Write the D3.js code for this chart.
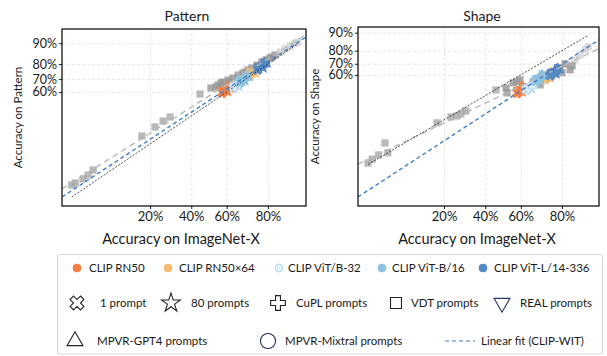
<!DOCTYPE html>
<html>
<head>
<meta charset="utf-8">
<script src="https://cdn.jsdelivr.net/npm/d3@7"></script>
<style>
  body { margin: 0; background: #fff; }
  text { font-family: Lato, "Open Sans", sans-serif; fill: #1a1a1a; }
</style>
</head>
<body>
<svg id="chart" width="607" height="356"></svg>
<script>
// ---- categories -------------------------------------------------------
const models = ["CLIP RN50", "CLIP RN50\u00d764", "CLIP ViT/B-32", "CLIP ViT-B/16", "CLIP ViT-L/14-336"];
const prompts = ["1 prompt", "80 prompts", "CuPL prompts", "VDT prompts", "REAL prompts",
                 "MPVR-GPT4 prompts", "MPVR-Mixtral prompts"];
const fitLabel = "Linear fit (CLIP-WIT)";

// ---- tick labels ------------------------------------------------------
const xTicks = [0.2, 0.4, 0.6, 0.8];
const xTickLabels = ["20%", "40%", "60%", "80%"];
const yTicks = [0.6, 0.7, 0.8, 0.9];
const yTickLabels = ["60%", "70%", "80%", "90%"];

// ---- Pattern: accuracy (%) on ImageNet-X vs on Pattern, one row per prompt set
const patternRN50   = [[57.5,59.5],[59.8,61.8],[60.5,62.5],[59.5,61.0],[58.5,60.5],[61.0,63.0],[60.8,62.8]];
const patternRN50x64= [[72.0,73.5],[74.0,75.5],[74.8,76.5],[73.8,75.0],[73.0,74.5],[75.2,77.0],[75.0,76.8]];
const patternViTB32 = [[63.5,63.5],[65.8,66.0],[66.5,67.0],[65.5,65.5],[64.5,64.5],[67.0,67.5],[66.8,67.2]];
const patternViTB16 = [[67.0,67.5],[69.0,70.0],[70.0,71.0],[69.0,69.5],[68.0,69.0],[70.5,71.5],[70.2,71.2]];
const patternViTL14 = [[75.5,76.5],[77.5,78.8],[78.3,79.8],[77.3,78.5],[76.5,77.8],[78.8,80.3],[78.6,80.0]];
const patternOthers = [
  [2.5,4.4],[2.8,4.8],[3.6,5.7],[4.2,6.7],[4.9,8.2],[16.9,25.0],[22.0,31.4],[25.6,36.0],[28.9,39.2],
  [44.9,58.3],[51.1,63.2],[55.1,65.5],[56.8,67.0],[54.0,64.0],[57.9,67.8],[60.7,69.3],[63.4,70.8],
  [66.1,72.9],[68.6,74.3],[71.1,76.3],[73.0,77.6],[75.4,79.4],[77.5,81.2],[79.2,82.3],[80.8,83.3],
  [82.7,84.9],[84.5,86.3],[86.1,87.7],[87.6,88.9],[89.0,90.0],[89.8,90.4],[62.0,68.0],[70.0,74.8],
  [78.5,80.5],[81.5,83.8]
];
const patternFitWIT = [0.967, 0.07];     // slope, intercept in probit space
const patternFitOthers = [0.933, 0.169];

// ---- Shape --------------------------------------------------------------
const shapeRN50   = [[58.0,42.5],[60.0,45.5],[60.8,47.0],[59.5,44.5],[59.0,44.0],[61.2,47.5],[61.0,47.2]];
const shapeRN50x64= [[72.5,56.0],[74.4,59.0],[75.2,60.8],[74.2,58.5],[73.5,57.5],[75.6,61.2],[75.4,61.0]];
const shapeViTB32 = [[63.0,46.0],[65.0,48.5],[65.8,50.0],[64.8,48.0],[64.0,47.0],[66.2,50.5],[66.0,50.3]];
const shapeViTB16 = [[68.0,54.0],[70.0,57.0],[70.8,58.5],[69.8,56.5],[69.0,55.5],[71.2,59.0],[71.0,58.8]];
const shapeViTL14 = [[75.0,59.5],[77.0,62.8],[77.8,64.5],[76.8,62.3],[76.0,61.5],[78.2,65.0],[78.0,64.7]];
const shapeOthers = [
  [2.7,2.9],[3.1,3.6],[3.8,4.5],[4.6,8.0],[5.0,5.0],[17.3,18.0],[22.9,22.0],[25.6,22.8],[27.4,24.3],
  [29.8,26.6],[46.0,45.5],[51.7,47.5],[52.3,42.7],[55.7,52.3],[57.9,53.3],[59.6,55.2],[66.6,53.3],
  [70.2,50.4],[74.0,57.1],[77.1,60.9],[79.2,66.4],[81.2,69.9],[83.1,64.7],[84.8,73.2],[86.4,77.0],
  [87.9,80.6],[88.8,82.6],[83.8,68.2],[72.0,60.0],[80.0,62.0]
];
const shapeFitWIT = [1.113, -0.416];
const shapeFitOthers = [0.818, -0.227];

// ---- styling -----------------------------------------------------------
const modelFill   = ["#f47f44", "#f8ba6c", "#e4f0f8", "#8dc3e1", "#5489c4"];
const modelStroke = ["#f47f44", "#f8ba6c", "#a9cfe6", "#8dc3e1", "#5489c4"];
const fitBlue = "#3d7cc9";

// inverse of the standard normal CDF (Acklam's approximation)
function probit(p) {
  const a=[-3.969683028665376e+01,2.209460984245205e+02,-2.759285104469687e+02,1.383577518672690e+02,-3.066479806614716e+01,2.506628277459239e+00];
  const b=[-5.447609879822406e+01,1.615858368580409e+02,-1.556989798598866e+02,6.680131188771972e+01,-1.328068155833135e+01];
  const c=[-7.784894002430293e-03,-3.223964580411365e-01,-2.400758277161838e+00,-2.549732539343734e+00,4.374664141464968e+00,2.938163982698783e+00];
  const d=[7.784695709041462e-03,3.224671290700398e-01,2.445134137142996e+00,3.754408661907416e+00];
  const pl = 0.02425;
  let q, r;
  if (p < pl) {
    q = Math.sqrt(-2*Math.log(p));
    return (((((c[0]*q+c[1])*q+c[2])*q+c[3])*q+c[4])*q+c[5])/((((d[0]*q+d[1])*q+d[2])*q+d[3])*q+1);
  }
  if (p <= 1 - pl) {
    q = p - 0.5; r = q*q;
    return (((((a[0]*r+a[1])*r+a[2])*r+a[3])*r+a[4])*r+a[5])*q/(((((b[0]*r+b[1])*r+b[2])*r+b[3])*r+b[4])*r+1);
  }
  q = Math.sqrt(-2*Math.log(1-p));
  return -(((((c[0]*q+c[1])*q+c[2])*q+c[3])*q+c[4])*q+c[5])/((((d[0]*q+d[1])*q+d[2])*q+d[3])*q+1);
}

// marker shapes per prompt set: [symbol type, rotation]
const promptSymbols = [
  [d3.symbolCross, 45], [d3.symbolStar, 0], [d3.symbolCross, 0], [d3.symbolSquare, 0],
  [d3.symbolTriangle, 180], [d3.symbolTriangle, 0], [d3.symbolCircle, 0]
];

const svg = d3.select("#chart");
const defs = svg.append("defs");
defs.append("filter").attr("id", "soft").attr("x", "-50%").attr("y", "-50%").attr("width", "200%").attr("height", "200%")
  .append("feGaussianBlur").attr("stdDeviation", 0.7);

const panels = [
  { title: "Pattern", ylabel: "Accuracy on Pattern", titleX: 187, xlabelX: 181, ylabelX: 18,
    left: 62, right: 306, top: 29, bottom: 206, xDom: [-2.1, 1.386], yDom: [-2.15, 1.58],
    series: [patternRN50, patternRN50x64, patternViTB32, patternViTB16, patternViTL14],
    others: patternOthers, fitWIT: patternFitWIT, fitOthers: patternFitOthers },
  { title: "Shape", ylabel: "Accuracy on Shape", titleX: 482, xlabelX: 477, ylabelX: 315,
    left: 358, right: 599, top: 27, bottom: 206, xDom: [-2.07, 1.37], yDom: [-2.94, 1.42],
    series: [shapeRN50, shapeRN50x64, shapeViTB32, shapeViTB16, shapeViTL14],
    others: shapeOthers, fitWIT: shapeFitWIT, fitOthers: shapeFitOthers }
];

panels.forEach((P, pi) => {
  const x = d3.scaleLinear().domain(P.xDom).range([P.left, P.right]);
  const y = d3.scaleLinear().domain(P.yDom).range([P.bottom, P.top]);
  const px = v => x(probit(v / 100));
  const py = v => y(probit(v / 100));
  const g = svg.append("g");
  const W = P.right - P.left, H = P.bottom - P.top;

  defs.append("clipPath").attr("id", "clip" + pi)
    .append("rect").attr("x", P.left).attr("y", P.top).attr("width", W).attr("height", H);

  // grid
  g.append("g").attr("transform", `translate(0,${P.bottom})`)
    .call(d3.axisBottom(x).tickValues(xTicks.map(probit)).tickSize(-H).tickFormat(""))
    .call(s => s.select(".domain").remove())
    .call(s => s.selectAll("line").attr("stroke", "#dcdcdc").attr("stroke-dasharray", "3,2").attr("stroke-width", 0.7));
  g.append("g").attr("transform", `translate(${P.left},0)`)
    .call(d3.axisLeft(y).tickValues(yTicks.map(probit)).tickSize(-W).tickFormat(""))
    .call(s => s.select(".domain").remove())
    .call(s => s.selectAll("line").attr("stroke", "#dcdcdc").attr("stroke-dasharray", "3,2").attr("stroke-width", 0.7));

  // other models
  const pts = g.append("g").attr("clip-path", `url(#clip${pi})`);
  pts.append("g").attr("filter", "url(#soft)")
    .selectAll("path").data(P.others).join("path")
    .attr("d", d3.symbol(d3.symbolSquare, 52))
    .attr("transform", d => `translate(${px(d[0])},${py(d[1])})`)
    .attr("fill", d => d[0] > 84 ? "#c4c4c4" : (d[0] > 50 ? "#979797" : "#a8a8a8"))
    .attr("fill-opacity", d => d[0] > 84 ? 0.6 : 0.8);

  // CLIP models, one marker per prompt set
  P.series.forEach((ser, mi) => {
    pts.append("g").selectAll("path").data(ser).join("path")
      .attr("d", (d, i) => d3.symbol(promptSymbols[i][0], i === 1 ? 70 : 60)())
      .attr("transform", (d, i) => `translate(${px(d[0])},${py(d[1])}) rotate(${promptSymbols[i][1]})`)
      .attr("fill", modelFill[mi]).attr("fill-opacity", 0.9)
      .attr("stroke", modelStroke[mi]).attr("stroke-width", 0.8);
  });

  // fit lines and identity
  const lines = g.append("g").attr("clip-path", `url(#clip${pi})`);
  const lineFit = f => [[P.xDom[0], f[0]*P.xDom[0] + f[1]], [P.xDom[1], f[0]*P.xDom[1] + f[1]]];
  const line = d3.line().x(d => x(d[0])).y(d => y(d[1]));
  lines.append("path").attr("d", line(lineFit(P.fitOthers)))
    .attr("stroke", "#b8b8b8").attr("stroke-width", 1.4).attr("stroke-dasharray", "6,4").attr("fill", "none");
  const allX = P.others.map(d => probit(d[0] / 100));
  const ext = d3.extent(allX);
  lines.append("path").attr("d", line([[ext[0], ext[0]], [ext[1], ext[1]]]))
    .attr("stroke", "#222").attr("stroke-width", 0.8).attr("stroke-dasharray", "2,1.5").attr("fill", "none");
  lines.append("path").attr("d", line(lineFit(P.fitWIT)))
    .attr("stroke", fitBlue).attr("stroke-width", 1.4).attr("stroke-dasharray", "4,3").attr("fill", "none");

  // axes
  const xa = g.append("g").attr("transform", `translate(0,${P.bottom})`)
    .call(d3.axisBottom(x).tickValues(xTicks.map(probit)).tickSize(3).tickPadding(3)
      .tickFormat((d, i) => xTickLabels[i]));
  xa.select(".domain").remove();
  xa.selectAll("text").attr("font-size", 13).attr("fill", "#1a1a1a");
  xa.selectAll("line").attr("stroke", "#222");
  const ya = g.append("g").attr("transform", `translate(${P.left},0)`)
    .call(d3.axisLeft(y).tickValues(yTicks.map(probit)).tickSize(3).tickPadding(2)
      .tickFormat((d, i) => yTickLabels[i]));
  ya.select(".domain").remove();
  ya.selectAll("text").attr("font-size", 12.5).attr("fill", "#1a1a1a");
  ya.selectAll("line").attr("stroke", "#222");

  g.append("rect").attr("x", P.left).attr("y", P.top).attr("width", W).attr("height", H)
    .attr("fill", "none").attr("stroke", "#000").attr("stroke-width", 1.2);

  g.append("text").attr("x", P.titleX).attr("y", 21).attr("text-anchor", "middle")
    .attr("font-size", 14).text(P.title);
  g.append("text").attr("x", P.xlabelX).attr("y", 244).attr("text-anchor", "middle")
    .attr("font-size", 14.5).text("Accuracy on ImageNet-X");
  g.append("text").attr("transform", `translate(${P.ylabelX},${(P.top + P.bottom) / 2}) rotate(-90)`)
    .attr("text-anchor", "middle").attr("dy", "0.35em").attr("font-size", 11.5).text(P.ylabel);
});

// ---- legend --------------------------------------------------------------
const lg = svg.append("g");
lg.append("rect").attr("x", 57.5).attr("y", 254.5).attr("width", 545).attr("height", 99.5)
  .attr("rx", 2).attr("fill", "#fff").attr("stroke", "#d6d6d6").attr("stroke-width", 1);

const modelPos = [[77, 89], [168, 179], [279, 288], [382, 392], [483, 494]];
models.forEach((m, i) => {
  lg.append("circle").attr("cx", modelPos[i][0]).attr("cy", 268).attr("r", 4)
    .attr("fill", modelFill[i]).attr("stroke", modelStroke[i]).attr("stroke-width", 0.8);
  lg.append("text").attr("x", modelPos[i][1]).attr("y", 268).attr("dy", "0.35em")
    .attr("font-size", 11.5).text(m);
});

const promptPos = [[77, 303, 100], [171, 303, 191], [278, 303, 296], [396, 303, 411], [502, 303, 520],
                   [75, 341, 97], [268, 341, 285]];
const promptSizes = [120, 110, 120, 120, 110, 110, 180];
const promptStroke = ["#222", "#222", "#222", "#222", "#2b3a67", "#222", "#1f2d55"];
prompts.forEach((p, i) => {
  const [cx, cy, tx] = promptPos[i];
  lg.append("path").attr("d", d3.symbol(promptSymbols[i][0], promptSizes[i])())
    .attr("transform", `translate(${cx},${cy}) rotate(${promptSymbols[i][1]})`)
    .attr("fill", "none").attr("stroke", promptStroke[i]).attr("stroke-width", 1.1);
  lg.append("text").attr("x", tx).attr("y", cy).attr("dy", "0.35em").attr("font-size", 11.5).text(p);
});
lg.append("line").attr("x1", 445).attr("x2", 475).attr("y1", 341).attr("y2", 341)
  .attr("stroke", fitBlue).attr("stroke-width", 1.2).attr("stroke-dasharray", "4,3");
lg.append("text").attr("x", 481).attr("y", 341).attr("dy", "0.35em").attr("font-size", 11.5).text(fitLabel);
</script>
</body>
</html>
